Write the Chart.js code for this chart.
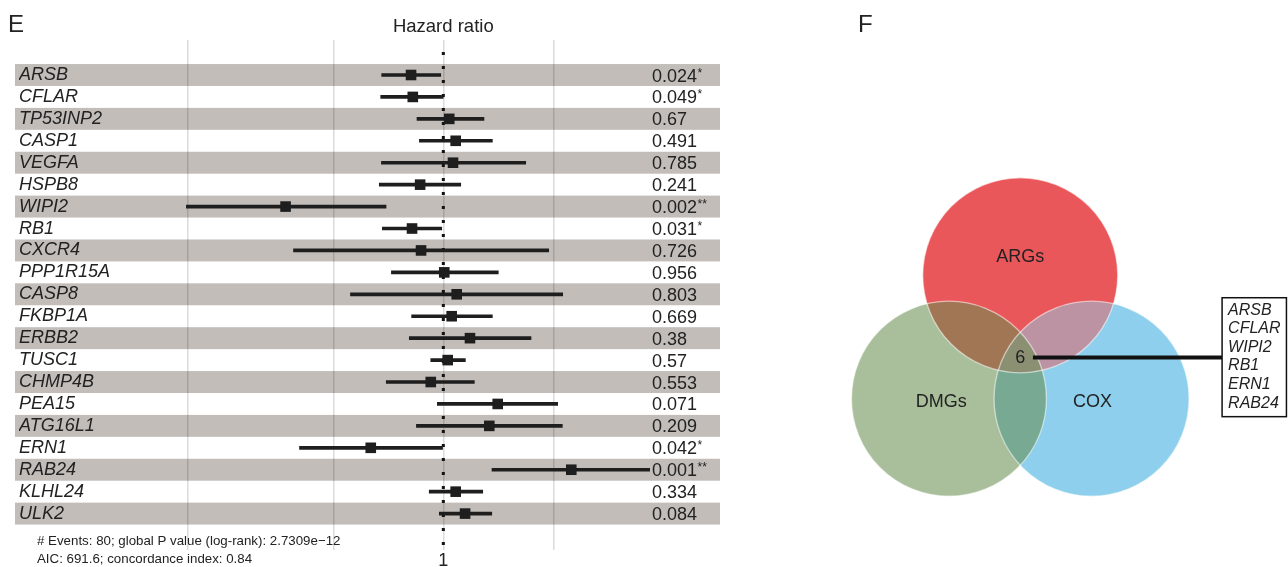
<!DOCTYPE html>
<html>
<head>
<meta charset="utf-8">
<script src="https://cdn.jsdelivr.net/npm/chart.js@4"></script>
<style>
  html, body { margin: 0; padding: 0; background: #fff; }
  #wrap { position: relative; width: 1288px; height: 567px; overflow: hidden; }
  #forest { position: absolute; left: 0; top: 0; }
  #venn { position: absolute; left: 740px; top: 0; }
</style>
</head>
<body>
<div id="wrap">
  <canvas id="forest" width="740" height="567"></canvas>
  <canvas id="venn" width="548" height="567"></canvas>
</div>
<script>
// forest plot values
const genes = ['ARSB', 'CFLAR', 'TP53INP2', 'CASP1', 'VEGFA', 'HSPB8', 'WIPI2', 'RB1', 'CXCR4', 'PPP1R15A',
  'CASP8', 'FKBP1A', 'ERBB2', 'TUSC1', 'CHMP4B', 'PEA15', 'ATG16L1', 'ERN1', 'RAB24', 'KLHL24', 'ULK2'];
const hr    = [0.816, 0.825, 1.038, 1.081, 1.063, 0.864, 0.370, 0.821, 0.869, 1.006,
  1.088, 1.054, 1.183, 1.028, 0.924, 1.409, 1.336, 0.633, 2.240, 1.081, 1.147];
const lower = [0.678, 0.674, 0.847, 0.860, 0.677, 0.668, 0.198, 0.681, 0.389, 0.721,
  0.557, 0.819, 0.807, 0.924, 0.698, 0.963, 0.844, 0.404, 1.359, 0.915, 0.975];
const upper = [0.984, 0.999, 1.292, 1.362, 1.681, 1.116, 0.697, 0.990, 1.943, 1.414,
  2.122, 1.362, 1.738, 1.149, 1.216, 2.056, 2.117, 0.995, 3.690, 1.282, 1.357];
const pValues = ['0.024', '0.049', '0.67', '0.491', '0.785', '0.241', '0.002', '0.031', '0.726', '0.956',
  '0.803', '0.669', '0.38', '0.57', '0.553', '0.071', '0.209', '0.042', '0.001', '0.334', '0.084'];
const stars = ['*', '*', '', '', '', '', '**', '*', '', '', '', '', '', '', '', '', '', '*', '**', '', ''];
const hrTicks = [0.2, 0.5, 1, 2];
const footnote = ['# Events: 80; global P value (log-rank): 2.7309e\u221212', 'AIC: 691.6; concordance index: 0.84'];

// venn values: ARGs, DMGs, COX circles (unit radius) and the shared genes
const vennSets = ['ARGs', 'DMGs', 'COX'];
const vennX = [0, -0.731, 0.731];
const vennY = [0.844, -0.422, -0.422];
const vennR = [1, 1, 1];
const vennCore = '6';
const coreGenes = ['ARSB', 'CFLAR', 'WIPI2', 'RB1', 'ERN1', 'RAB24'];

const FONT = '"Liberation Sans", Arial, Helvetica, sans-serif';
const INK = '#1e1e1e';
const BAND = '#c2bdb9';
Chart.defaults.font.family = FONT;
Chart.defaults.color = '#222';

const forestDecor = {
  id: 'forestDecor',
  beforeDraw(chart) {
    const { ctx, scales: { y } } = chart;
    ctx.save();
    ctx.fillStyle = BAND;
    genes.forEach((g, i) => {
      if (i % 2) return;
      const top = y.getPixelForValue(i - 0.5);
      const bot = y.getPixelForValue(i + 0.5);
      ctx.fillRect(15, top, 705, bot - top);
    });
    ctx.restore();
  },
  afterDraw(chart) {
    const { ctx, chartArea, scales: { x, y } } = chart;
    ctx.save();
    ctx.fillStyle = '#222';
    ctx.textAlign = 'left';
    ctx.font = '24px ' + FONT;
    ctx.fillText('E', 8, 32);

    ctx.font = '18.5px ' + FONT;
    ctx.textAlign = 'center';
    ctx.fillText('Hazard ratio', x.getPixelForValue(1), 32);

    ctx.textAlign = 'left';
    const px = chartArea.right + 2;
    genes.forEach((g, i) => {
      const py = y.getPixelForValue(i) + 6.5;
      ctx.font = '18px ' + FONT;
      ctx.fillText(pValues[i], px, py);
      if (stars[i]) {
        const w = ctx.measureText(pValues[i]).width;
        ctx.font = '12px ' + FONT;
        ctx.fillText(stars[i], px + w + 0.5, py - 5);
      }
    });

    ctx.font = '13.3px ' + FONT;
    ctx.fillText(footnote[0], 37, 545);
    ctx.fillText(footnote[1], 37, 563);
    ctx.restore();
  }
};

new Chart(document.getElementById('forest'), {
  type: 'bar',
  data: {
    datasets: [
      {
        type: 'bar',
        indexAxis: 'y',
        data: genes.map((g, i) => ({ y: i, x: [lower[i], upper[i]] })),
        backgroundColor: INK,
        barThickness: 3,
        order: 2
      },
      {
        type: 'scatter',
        data: genes.map((g, i) => ({ x: hr[i], y: i })),
        pointStyle: 'rect',
        radius: 7.5,
        backgroundColor: INK,
        borderWidth: 0,
        order: 1
      },
      {
        type: 'line',
        data: [{ x: 1, y: -1.05 }, { x: 1, y: 21.6 }],
        borderColor: '#111',
        borderWidth: 3,
        borderDash: [3, 11],
        pointRadius: 0,
        order: 3
      }
    ]
  },
  options: {
    responsive: false,
    animation: false,
    events: [],
    layout: { padding: { left: 19, right: 90, top: 40, bottom: 0 } },
    plugins: { legend: { display: false }, tooltip: { enabled: false } },
    scales: {
      x: {
        type: 'logarithmic',
        position: 'bottom',
        bounds: 'data',
        offset: false,
        min: 0.1786,
        max: 3.679,
        afterBuildTicks: s => { s.ticks = hrTicks.map(v => ({ value: v })); },
        afterFit: s => { s.height = 17; },
        grid: { color: 'rgba(0,0,0,0.14)', lineWidth: 1.5, drawTicks: false, offset: false },
        border: { display: false },
        ticks: {
          padding: 0,
          font: { size: 18 },
          color: '#222',
          autoSkip: false,
          maxRotation: 0,
          callback: v => (v === 1 ? '1' : '')
        }
      },
      y: {
        type: 'linear',
        reverse: true,
        bounds: 'data',
        offset: false,
        min: -1.596,
        max: 21.66,
        afterBuildTicks: s => { s.ticks = genes.map((g, i) => ({ value: i })); },
        afterFit: s => { s.width = 151; },
        grid: { display: false, offset: false },
        border: { display: false },
        ticks: {
          crossAlign: 'far',
          autoSkip: false,
          font: { size: 18, style: 'italic' },
          color: '#222',
          callback: v => genes[v]
        }
      }
    }
  },
  plugins: [forestDecor]
});

// venn diagram
// red under, COX mixed half over it, then COX filled beneath where nothing is yet, green on top
const labelX = [0, -0.81, 0.74];
const labelY = [1.03, -0.455, -0.455];
const circleRadius = ctx => {
  const s = ctx.chart.scales.x;
  const i = ctx.raw ? ctx.raw.set : 0;
  return s.getPixelForValue(vennR[i]) - s.getPixelForValue(0);
};
const circle = (i) => ({ x: vennX[i], y: vennY[i], set: i });
const layerOps = ['source-over', 'source-over', 'destination-over', 'source-over', 'source-over', 'source-over'];

const vennDecor = {
  id: 'vennDecor',
  beforeDatasetDraw(chart, args) {
    chart.ctx.save();
    chart.ctx.globalCompositeOperation = layerOps[args.index] || 'source-over';
  },
  afterDatasetDraw(chart) {
    chart.ctx.restore();
  },
  afterDraw(chart) {
    const { ctx, scales: { x, y } } = chart;
    ctx.save();
    ctx.fillStyle = '#222';
    ctx.textAlign = 'left';
    ctx.font = '24px ' + FONT;
    ctx.fillText('F', 118, 32);

    ctx.font = '18px ' + FONT;
    ctx.textAlign = 'center';
    ctx.textBaseline = 'middle';
    vennSets.forEach((s, i) => ctx.fillText(s, x.getPixelForValue(labelX[i]), y.getPixelForValue(labelY[i])));
    ctx.fillText(vennCore, x.getPixelForValue(0), y.getPixelForValue(0));

    const bx0 = x.getPixelForValue(2.07), bx1 = x.getPixelForValue(2.73);
    const by0 = y.getPixelForValue(0.614), by1 = y.getPixelForValue(-0.606);
    ctx.fillStyle = '#fff';
    ctx.fillRect(bx0, by0, bx1 - bx0, by1 - by0);
    ctx.strokeStyle = '#111';
    ctx.lineWidth = 1.5;
    ctx.strokeRect(bx0, by0, bx1 - bx0, by1 - by0);

    ctx.fillStyle = '#222';
    ctx.textAlign = 'left';
    ctx.font = 'italic 16px ' + FONT;
    coreGenes.forEach((g, i) => ctx.fillText(g, bx0 + 6, by0 + 12.5 + i * 18.6));
    ctx.restore();
  }
};

const circleDs = (pts, fill, order) => ({
  data: pts,
  pointBackgroundColor: fill,
  pointBorderWidth: 0,
  pointBorderColor: 'rgba(0,0,0,0)',
  pointRadius: circleRadius,
  order
});

new Chart(document.getElementById('venn'), {
  type: 'scatter',
  data: {
    datasets: [
      circleDs([circle(0)], 'rgb(233,87,90)', 6),
      circleDs([circle(2)], 'rgba(141,207,236,0.5)', 5),
      circleDs([circle(2)], 'rgb(141,207,236)', 4),
      circleDs([circle(1)], 'rgba(104,143,80,0.57)', 3),
      {
        data: [circle(0), circle(1), circle(2)],
        pointBackgroundColor: 'rgba(0,0,0,0)',
        pointBorderColor: 'rgba(255,255,255,0.55)',
        pointBorderWidth: 1.3,
        pointRadius: circleRadius,
        order: 2
      },
      {
        type: 'line',
        data: [{ x: 0.13, y: 0 }, { x: 2.07, y: 0 }],
        borderColor: '#111',
        borderWidth: 4,
        pointRadius: 0,
        order: 1
      }
    ]
  },
  options: {
    responsive: false,
    animation: false,
    events: [],
    layout: { padding: 0 },
    plugins: { legend: { display: false }, tooltip: { enabled: false } },
    scales: {
      x: { type: 'linear', display: false, min: -2.874, max: 2.746 },
      y: { type: 'linear', display: false, min: -2.148, max: 3.668 }
    }
  },
  plugins: [vennDecor]
});
</script>
</body>
</html>
